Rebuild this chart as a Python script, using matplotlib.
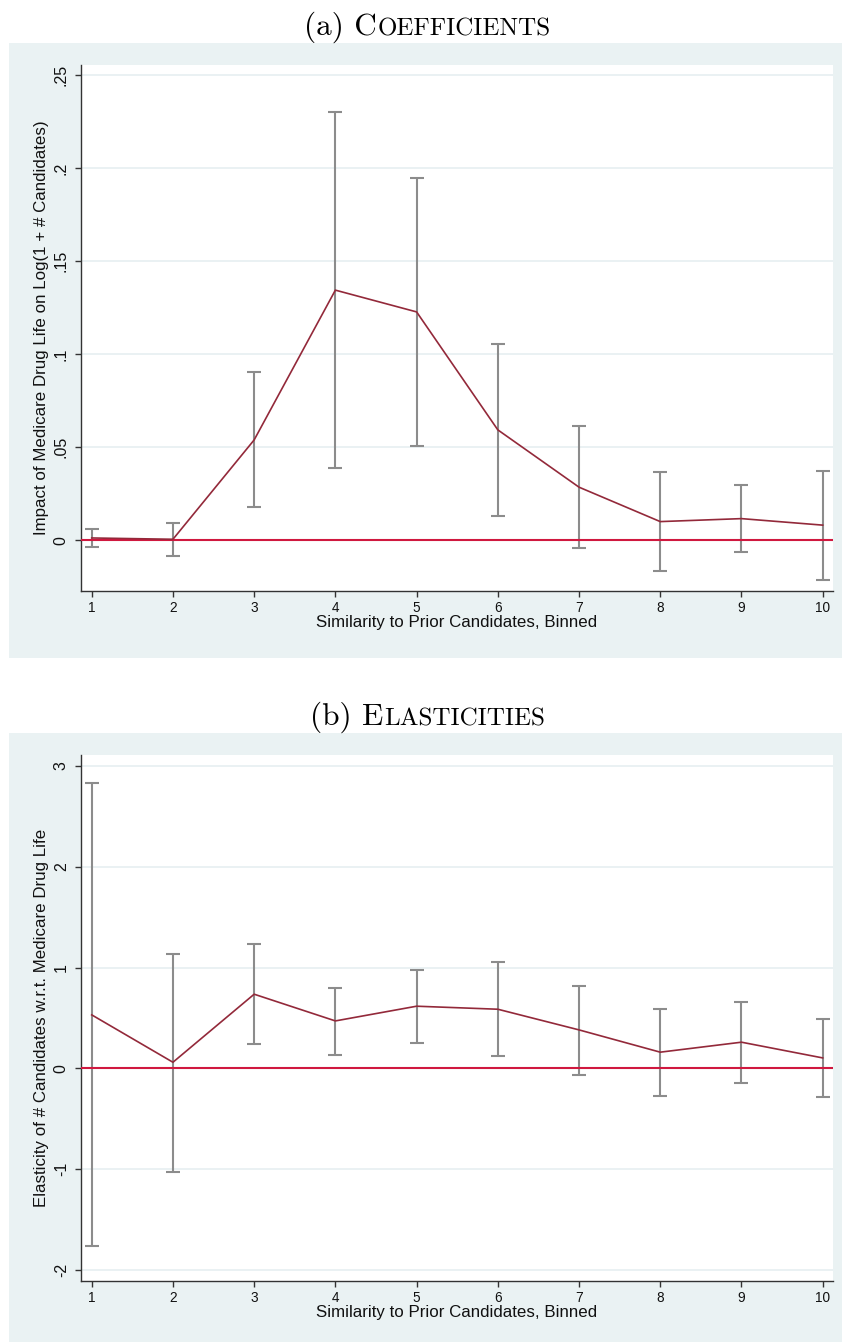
import matplotlib
matplotlib.use("Agg")
import matplotlib.pyplot as plt
from matplotlib.patches import Rectangle

# ---------------- data ----------------
bins = [1, 2, 3, 4, 5, 6, 7, 8, 9, 10]

coef = [0.0012, 0.0005, 0.0539, 0.1344, 0.1227, 0.0593, 0.0285, 0.0100, 0.0116, 0.0081]
coef_hi = [0.0059, 0.0095, 0.0906, 0.2299, 0.1949, 0.1057, 0.0613, 0.0366, 0.0296, 0.0374]
coef_lo = [-0.0034, -0.0083, 0.0179, 0.0387, 0.0507, 0.0129, -0.0043, -0.0165, -0.0061, -0.0212]

elas = [0.531, 0.061, 0.736, 0.471, 0.617, 0.587, 0.382, 0.161, 0.260, 0.104]
elas_hi = [2.832, 1.139, 1.235, 0.802, 0.980, 1.054, 0.821, 0.590, 0.660, 0.490]
elas_lo = [-1.762, -1.024, 0.243, 0.137, 0.256, 0.127, -0.061, -0.273, -0.141, -0.283]

coef_ticks = [0, 0.05, 0.1, 0.15, 0.2, 0.25]
coef_ticklabels = ["0", ".05", ".1", ".15", ".2", ".25"]
elas_ticks = [-2, -1, 0, 1, 2, 3]
elas_ticklabels = ["-2", "-1", "0", "1", "2", "3"]

xlabel = "Similarity to Prior Candidates, Binned"
ylabel_a = "Impact of Medicare Drug Life on Log(1 + # Candidates)"
ylabel_b = "Elasticity of # Candidates w.r.t. Medicare Drug Life"

# ---------------- style ----------------
W, H = 842, 1342
BG = "#EAF2F3"
GRID = "#E6EFF1"
LINE = "#93293A"
ZERO = "#D0183F"
BAR = "#8C8C8C"
AX = "#333333"
SANS = "Liberation Sans"

fig = plt.figure(figsize=(W / 100, H / 100), dpi=100)
fig.patch.set_facecolor("white")


def px_rect(x0, y0, x1, y1):
    return [x0 / W, 1 - y1 / H, (x1 - x0) / W, (y1 - y0) / H]


def add_bg(x0, y0, x1, y1):
    r = Rectangle((x0 / W, 1 - y1 / H), (x1 - x0) / W, (y1 - y0) / H,
                  transform=fig.transFigure, facecolor=BG, edgecolor="none", zorder=-10)
    fig.patches.append(r)


def smallcaps_title(prefix, rest, cx, by):
    r = fig.canvas.get_renderer()
    t1 = fig.text(0, 0, prefix, fontsize=22.5, family="cmr10", va="baseline", ha="left")
    t2 = fig.text(0, 0, rest, fontsize=18, family="cmr10", va="baseline", ha="left")
    w1 = t1.get_window_extent(r).width
    w2 = t2.get_window_extent(r).width
    x0 = cx - (w1 + w2) / 2
    t1.set_position((x0 / W, 1 - by / H))
    t2.set_position(((x0 + w1 + 1) / W, 1 - by / H))


def panel(rect_px, y, lo, hi, yticks, yticklabels, ylim, ylabel):
    ax = fig.add_axes(px_rect(*rect_px))
    ax.set_zorder(5)
    ax.set_facecolor("white")
    yerr = [[v - l for v, l in zip(y, lo)], [h - v for v, h in zip(y, hi)]]
    ax.errorbar(bins, y, yerr=yerr, fmt="none", ecolor=BAR, elinewidth=1.5,
                capsize=5, capthick=1.5, zorder=2)
    ax.axhline(0, color=ZERO, lw=1.5, zorder=3)
    ax.plot(bins, y, color=LINE, lw=1.2, zorder=4)
    ax.set_xlim(0.868, 10.127)
    ax.set_ylim(*ylim)
    ax.set_xticks(bins)
    ax.set_xticklabels([str(b) for b in bins], fontsize=9.8, family=SANS)
    ax.set_yticks(yticks)
    ax.set_yticklabels(yticklabels, fontsize=11.5, family=SANS, rotation=90, va="center")
    ax.grid(axis="y", color=GRID, lw=1.2, zorder=1)
    ax.set_axisbelow(True)
    for s in ["top", "right"]:
        ax.spines[s].set_visible(False)
    for s in ["left", "bottom"]:
        ax.spines[s].set_color(AX)
        ax.spines[s].set_linewidth(1.0)
    ax.tick_params(axis="both", direction="out", length=4.5, width=1.0, color=AX,
                   labelcolor="#111111")
    ax.tick_params(axis="y", pad=4.3)
    ax.tick_params(axis="x", pad=3)
    hpx = rect_px[3] - rect_px[1]
    wpx = rect_px[2] - rect_px[0]
    ax.set_xlabel(xlabel, fontsize=12.2, family=SANS, va="center", color="#111111")
    ax.xaxis.set_label_coords(0.5, -32 / hpx)
    ax.set_ylabel(ylabel, fontsize=12.2, family=SANS, va="center", color="#111111")
    ax.yaxis.set_label_coords(-39 / wpx, 0.5)
    return ax


# Panel (a)
add_bg(9, 43, 842, 658)
smallcaps_title("(a) C", "OEFFICIENTS", 427, 35)
panel((81, 65, 833, 591), coef, coef_lo, coef_hi, coef_ticks, coef_ticklabels,
      (-0.0273, 0.2554), ylabel_a)

# Panel (b)
add_bg(9, 733, 842, 1342)
smallcaps_title("(b) E", "LASTICITIES", 427, 725)
panel((81, 755, 833, 1281), elas, elas_lo, elas_hi, elas_ticks, elas_ticklabels,
      (-2.109, 3.109), ylabel_b)

fig.savefig("out.png", dpi=100, facecolor="white")
